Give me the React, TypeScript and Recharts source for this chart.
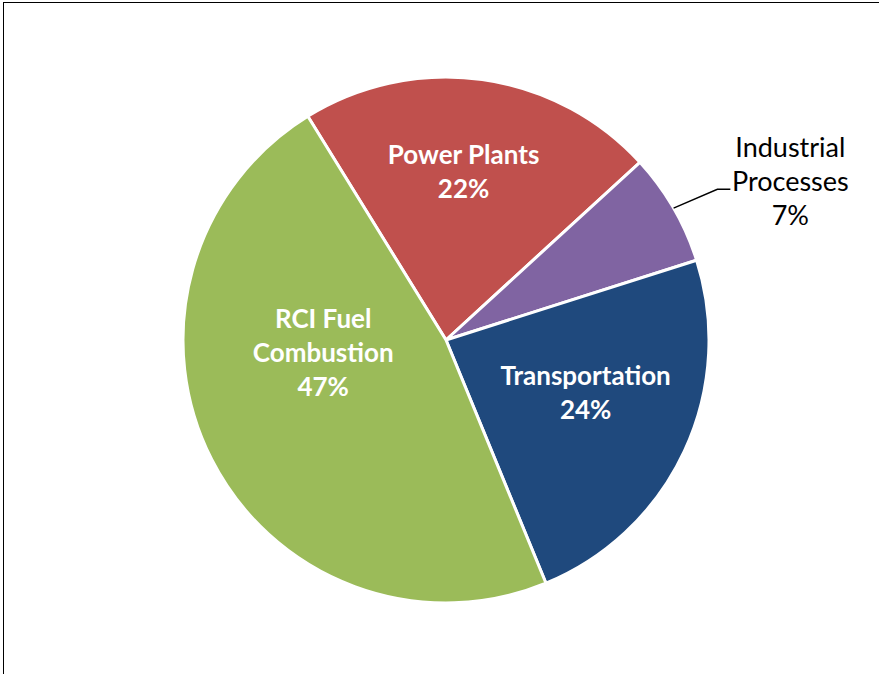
import React from 'react';
import { PieChart, Pie, Cell } from 'recharts';

const sectors = ['Power Plants', 'Industrial Processes', 'Transportation', 'RCI Fuel Combustion'];
const shares = [22.0, 6.9, 23.7, 47.4];
const sectorColors = ['#C0504D', '#8064A2', '#1F497D', '#9BBB59'];
const labelNames = [['Power Plants'], ['Industrial', 'Processes'], ['Transportation'], ['RCI Fuel', 'Combustion']];

const data = sectors.map((name, i) => ({ name, value: shares[i] }));

const RAD = Math.PI / 180;
const FONT = 'Lato, "Open Sans", sans-serif';

// where each label sits: polar offset from the pie centre (angle in degrees, radius as share of R)
const labelSpots = [
  { angle: 84, r: 0.64 },
  { angle: 24.6, r: 1.44 },
  { angle: -21.3, r: 0.57 },
  { angle: 186.5, r: 0.47 },
];

const renderLabel = (props: any) => {
  const { cx, cy, outerRadius, index, midAngle, percent } = props;
  const spot = labelSpots[index];
  const x = cx + outerRadius * spot.r * Math.cos(spot.angle * RAD);
  const y = cy - outerRadius * spot.r * Math.sin(spot.angle * RAD) - 2;
  const lines = [...labelNames[index], `${Math.round(percent * 100)}%`];
  const lh = 34;
  const top = y - ((lines.length - 1) * lh) / 2;
  const outside = spot.r > 1;
  const ex = cx + outerRadius * Math.cos(midAngle * RAD);
  const ey = cy - outerRadius * Math.sin(midAngle * RAD);
  return (
    <g key={`lbl-${index}`}>
      {outside && (
        <polyline
          points={`${ex},${ey} ${x - 73},${y + 9} ${x - 60},${y + 9}`}
          fill="none"
          stroke="#000"
          strokeWidth={1.5}
        />
      )}
      <text
        x={x}
        y={top}
        textAnchor="middle"
        dominantBaseline="central"
        fill={outside ? '#000' : '#fff'}
        fontFamily={FONT}
        fontWeight={outside ? 400 : 700}
        fontSize={outside ? 27 : 26}
      >
        {lines.map((t, k) => (
          <tspan key={k} x={x} dy={k === 0 ? 0 : lh}>
            {t}
          </tspan>
        ))}
      </text>
    </g>
  );
};

export default function App() {
  return (
    <div style={{ position: 'fixed', left: 0, top: 0, width: 879, height: 674, overflow: 'hidden', background: '#fff' }}>
      <div
        style={{
          position: 'absolute',
          left: 3,
          top: 2,
          width: 920,
          height: 720,
          border: '1.5px solid #000',
          boxSizing: 'border-box',
        }}
      />
      <div style={{ position: 'absolute', left: 0, top: 0 }}>
        <PieChart width={879} height={674} margin={{ top: 0, right: 0, bottom: 0, left: 0 }}>
          <Pie
            data={data}
            dataKey="value"
            nameKey="name"
            cx={446}
            cy={340}
            outerRadius={263}
            startAngle={121.7}
            endAngle={121.7 - 360}
            stroke="#fff"
            strokeWidth={3}
            label={renderLabel}
            labelLine={false}
            isAnimationActive={false}
          >
            {data.map((d, i) => (
              <Cell key={d.name} fill={sectorColors[i]} />
            ))}
          </Pie>
        </PieChart>
      </div>
    </div>
  );
}
